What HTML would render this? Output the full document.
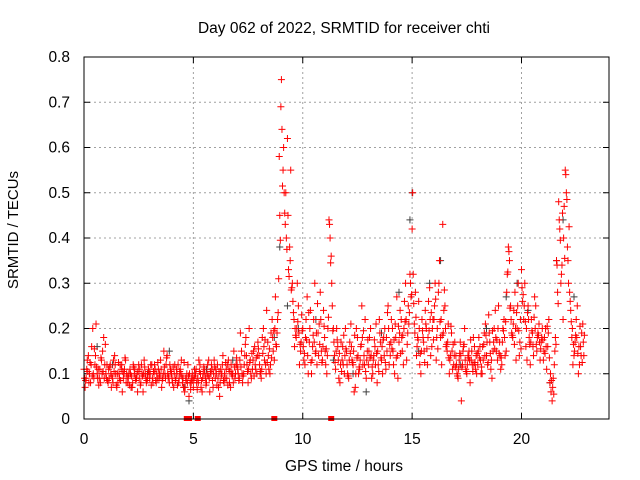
<!DOCTYPE html>
<html><head><meta charset="utf-8"><style>
body{margin:0;background:#fff}
svg{display:block;font-family:"Liberation Sans",sans-serif}
</style></head><body>
<svg id="chart" width="640" height="480">
<rect width="640" height="480" fill="#fff"/>
<text x="344" y="33" font-size="15.5" text-anchor="middle" fill="#000">Day 062 of 2022, SRMTID for receiver chti</text>
<text x="344" y="471" font-size="15.5" text-anchor="middle">GPS time / hours</text>
<text transform="translate(18,230) rotate(-90)" font-size="15" text-anchor="middle">SRMTID / TECUs</text>
<g id="grid"></g><g id="ticks"></g><g id="black"></g><g id="red"></g>
<rect x="84" y="57" width="525" height="362" fill="none" stroke="#000" stroke-width="1"/>
</svg>
<script>
const xTicks=[0,5,10,15,20];
const yTicks=[0,0.1,0.2,0.3,0.4,0.5,0.6,0.7,0.8];
const yTickLabels=["0","0.1","0.2","0.3","0.4","0.5","0.6","0.7","0.8"];
const redA=[.11,.09,.14,.08,.2,.12,.1,.09,.13,.18,.1,.08,.12,.09,.14,.07,.1,.11,.09,.13,.08,.11,.07,.1,.09,.12,.08,.06,.1,.09,.09,.12,.1,.08,.11,.13,.09,.1,.14,.08,.1,.07,.09,.12,.11,.08,.06,.1,.05,.08,.07,.1,.09,.12,.06,.11,.08,.13,.1,.07,.09,.12,.05,.1,.08,.11,.13,.07,.1,.09,.12,.09,.15,.1,.18,.08,.13,.11,.16,.1,.14,.09,.2,.12,.17,.1,.22,.13,.16,.31,.69,.55,.43,.62,.38,.29,.22,.18,.25,.15,.2,.12,.27,.17,.1,.22,.15,.19,.28,.13,.18,.1,.44,.36,.2,.11,.16,.08,.13,.1,.15,.09,.21,.12,.07,.18,.11,.25,.14,.09,.12,.2,.1,.16,.08,.22,.13,.18,.11,.25,.14,.2,.1,.27,.17,.22,.12,.3,.19,.32,.42,.21,.14,.26,.1,.18,.24,.12,.29,.16,.22,.13,.28,.18,.43,.25,.15,.1,.19,.12,.14,.09,.17,.12,.2,.1,.15,.13,.18,.11,.12,.16,.1,.19,.14,.23,.11,.15,.24,.13,.17,.12,.22,.15,.38,.25,.18,.28,.2,.14,.33,.22,.16,.25,.12,.19,.27,.15,.21,.17,.13,.2,.16,.08,.04,.12,.35,.48,.3,.22,.55,.38,.28,.18,.14,.22,.1,.16,.21];
const redB=[.07,.13,.1,.16,.09,.21,.11,.08,.15,.12,.12,.09,.07,.13,.1,.08,.12,.06,.11,.1,.1,.07,.12,.09,.06,.11,.1,.13,.08,.11,.12,.08,.11,.09,.1,.07,.15,.12,.09,.11,.08,.12,.1,.09,.13,.07,.09,.12,.08,.1,.11,.08,.13,.07,.1,.09,.12,.06,.11,.13,.1,.07,.11,.14,.09,.12,.08,.1,.15,.12,.1,.19,.08,.14,.12,.2,.09,.15,.11,.17,.1,.18,.13,.24,.11,.19,.15,.27,.22,.45,.64,.5,.4,.33,.55,.26,.2,.3,.12,.23,.13,.22,.1,.24,.16,.3,.12,.21,.15,.24,.12,.2,.4,.25,.14,.2,.09,.17,.12,.2,.1,.17,.13,.06,.2,.1,.16,.12,.22,.15,.18,.09,.14,.21,.12,.17,.1,.2,.15,.12,.22,.12,.18,.09,.24,.15,.26,.13,.21,.27,.32,.28,.18,.12,.22,.15,.2,.26,.14,.22,.3,.2,.35,.12,.24,.16,.21,.14,.11,.17,.1,.13,.04,.16,.11,.14,.08,.12,.16,.1,.18,.1,.13,.21,.12,.17,.09,.2,.15,.25,.11,.2,.14,.32,.35,.19,.24,.13,.3,.22,.26,.3,.13,.18,.22,.14,.25,.19,.13,.2,.18,.11,.22,.06,.09,.18,.28,.42,.34,.47,.5,.3,.24,.12,.17,.25,.12,.19,.14];
const redC=[.09,.11,.08,.12,.1,.14,.09,.11,.1,.09,.09,.11,.1,.08,.12,.1,.09,.12,.1,.08,.09,.1,.08,.11,.1,.09,.12,.1,.09,.1,.1,.09,.12,.1,.09,.11,.1,.09,.1,.12,.09,.1,.11,.08,.1,.09,.07,.08,.1,.09,.09,.11,.08,.1,.09,.1,.1,.09,.12,.1,.11,.09,.08,.12,.1,.09,.11,.12,.08,.1,.11,.13,.1,.12,.14,.11,.1,.13,.12,.14,.12,.11,.16,.1,.14,.12,.18,.2,.19,.58,.75,.6,.5,.45,.35,.3,.16,.2,.19,.17,.16,.18,.14,.2,.13,.17,.19,.14,.22,.16,.15,.14,.43,.3,.17,.15,.13,.12,.16,.14,.12,.13,.16,.15,.1,.14,.13,.18,.12,.13,.15,.14,.13,.12,.15,.19,.16,.14,.18,.2,.17,.15,.21,.14,.19,.18,.2,.22,.25,.3,.5,.19,.16,.2,.15,.17,.21,.18,.22,.2,.25,.18,.3,.22,.19,.2,.17,.13,.15,.14,.12,.11,.14,.15,.13,.12,.13,.15,.12,.14,.15,.13,.16,.14,.17,.19,.13,.17,.18,.2,.14,.17,.18,.28,.37,.22,.21,.2,.25,.17,.29,.25,.2,.22,.17,.16,.2,.18,.17,.18,.15,.16,.19,.1,.07,.15,.34,.44,.32,.4,.54,.35,.26,.2,.15,.18,.16,.14,.17];
const redD=[.085,.105,.125,.095,.155,.115,.075,.135,.105,.165,.085,.115,.095,.105,.075,.125,.085,.105,.135,.095,.075,.095,.115,.085,.105,.075,.095,.115,.085,.105,.075,.105,.085,.125,.095,.085,.115,.135,.095,.105,.115,.085,.075,.105,.095,.125,.085,.095,.065,.085,.095,.065,.105,.085,.115,.075,.095,.105,.085,.115,.075,.105,.095,.085,.125,.075,.105,.095,.115,.135,.085,.115,.095,.165,.105,.125,.145,.095,.135,.155,.105,.145,.175,.125,.155,.135,.195,.165,.235,.395,.515,.455,.375,.315,.285,.235,.185,.215,.165,.195,.145,.175,.235,.125,.185,.145,.255,.165,.125,.205,.155,.225,.345,.195,.125,.175,.145,.105,.185,.155,.095,.145,.125,.185,.135,.115,.165,.195,.105,.175,.135,.115,.175,.145,.105,.135,.175,.125,.235,.165,.155,.175,.135,.205,.145,.185,.215,.165,.235,.275,.255,.225,.175,.145,.195,.125,.155,.195,.235,.175,.265,.155,.215,.185,.285,.165,.135,.205,.165,.115,.095,.145,.115,.165,.105,.135,.175,.105,.125,.145,.135,.115,.165,.185,.125,.145,.195,.155,.175,.145,.135,.195,.215,.325,.245,.185,.165,.235,.195,.155,.275,.215,.235,.165,.195,.225,.165,.185,.155,.175,.145,.205,.135,.085,.055,.165,.255,.395,.455,.355,.485,.425,.215,.165,.185,.145,.205,.125,.185];
const blackX=[0.6,1.3,2.9,3.9,4.6,4.8,5.6,6.8,8.7,8.95,9.3,9.8,10.6,11.4,12.3,12.9,13.6,14.4,14.9,15.0,15.3,15.8,16.3,17.2,18.4,19.3,19.8,20.3,21.3,21.6,21.9,22.4];
const blackY=[.16,.12,.1,.15,.07,.04,.11,.13,.18,.38,.25,.2,.22,.13,.1,.06,.19,.28,.44,.5,.15,.3,.35,.12,.2,.27,.3,.24,.08,.35,.44,.27];
const dropX=[4.7,4.8,5.2,8.7,11.3];

const X0=84,X1=609,Y0=419,Y1=57,XMAX=24,YMAX=0.8;
const xs=v=>X0+(X1-X0)*v/XMAX;
const ys=v=>Y0-(Y0-Y1)*v/YMAX;
const NS="http://www.w3.org/2000/svg";
function mk(tag,attrs,parent){const e=document.createElementNS(NS,tag);for(const k in attrs)e.setAttribute(k,attrs[k]);parent.appendChild(e);return e;}
const grid=document.getElementById('grid'),ticks=document.getElementById('ticks');
xTicks.forEach(t=>{const x=xs(t);
 if(t>0){const g=mk('line',{x1:x,x2:x,y1:Y1,y2:Y0,stroke:'#a0a0a0','stroke-dasharray':'2,3'},grid);
 
 }
 mk('line',{x1:x,x2:x,y1:Y0,y2:Y0-6,stroke:'#000'},ticks);
 mk('line',{x1:x,x2:x,y1:Y1,y2:Y1+6,stroke:'#000'},ticks);
 const l=mk('text',{x:x,y:Y0+25,'font-size':15.5,'text-anchor':'middle'},ticks);l.textContent=t;
 
 });
yTicks.forEach((t,i)=>{const y=ys(t);
 if(t>0&&t<0.8){const g=mk('line',{x1:X0,x2:X1,y1:y,y2:y,stroke:'#a0a0a0','stroke-dasharray':'2,3'},grid);
 
 }
 mk('line',{x1:X0,x2:X0+6,y1:y,y2:y,stroke:'#000'},ticks);
 mk('line',{x1:X1,x2:X1-6,y1:y,y2:y,stroke:'#000'},ticks);
 const l=mk('text',{x:X0-14,y:y+5,'font-size':15.5,'text-anchor':'end'},ticks);l.textContent=yTickLabels[i];
 
 });
function plus(g,x,y,c,name){const p=mk('path',{d:`M${x-3.5},${y}h7M${x},${y-3.5}v7`,stroke:c,'stroke-width':1,fill:'none'},g);
 
 }
const bg=document.getElementById('black'),rg=document.getElementById('red');
blackX.forEach((t,i)=>plus(bg,xs(t),ys(blackY[i]),'#404040','black-point'));
redA.forEach((v,i)=>plus(rg,xs(i*0.1),ys(v),'#ff0000','red-point'));
redB.forEach((v,i)=>plus(rg,xs(0.05+i*0.1),ys(v),'#ff0000','red-point'));
redC.forEach((v,i)=>plus(rg,xs(0.025+i*0.1),ys(v),'#ff0000','red-point'));
redD.forEach((v,i)=>plus(rg,xs(0.075+i*0.1),ys(v),'#ff0000','red-point'));
dropX.forEach(t=>{const r=mk('rect',{x:xs(t)-3,y:Y0-3,width:6,height:5,fill:'#ff0000'},rg);
 
 });
</script>
</body></html>
